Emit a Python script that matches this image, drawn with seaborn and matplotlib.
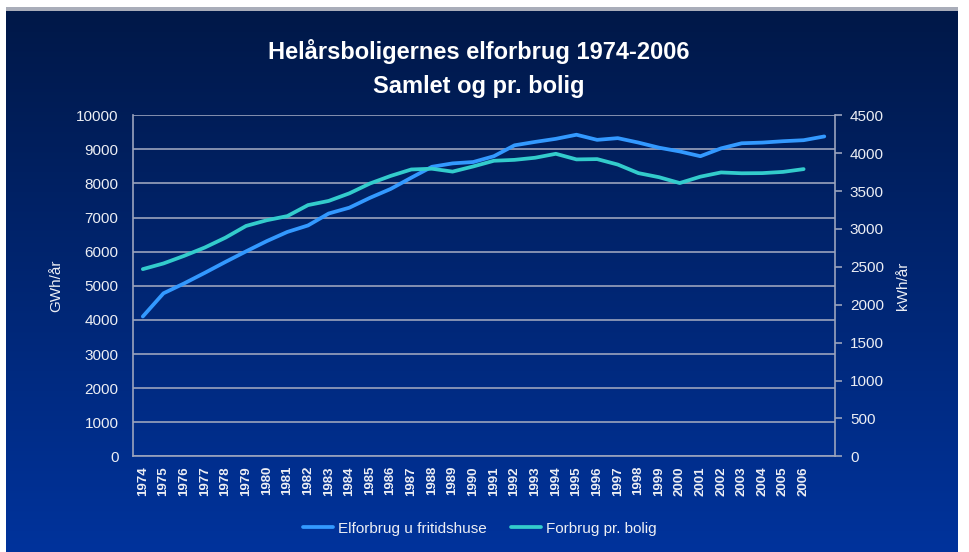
import numpy as np
import matplotlib
matplotlib.use("Agg")
import matplotlib.pyplot as plt
from matplotlib.colors import LinearSegmentedColormap
from matplotlib.patches import Rectangle
import seaborn as sns
import pandas as pd

# data
years = [str(y) for y in range(1974, 2007)] + [""]
elforbrug_gwh = [4100, 4780, 5070, 5380, 5700, 6010, 6310, 6580, 6770, 7120,
                 7290, 7580, 7840, 8170, 8490, 8590, 8630, 8800, 9120, 9220,
                 9310, 9430, 9280, 9330, 9200, 9050, 8940, 8800, 9030, 9180,
                 9200, 9240, 9270, 9380]
forbrug_bolig_kwh = [2470, 2545, 2645, 2755, 2885, 3040, 3115, 3170, 3315, 3370,
                     3470, 3600, 3700, 3785, 3795, 3757, 3825, 3900, 3912, 3940,
                     3992, 3918, 3922, 3850, 3737, 3683, 3606, 3690, 3746, 3735,
                     3737, 3753, 3790]

BLUE = "#3399ff"
TEAL = "#33cccc"
GRID = "#9aa3bd"
TXT = "#eceef4"

sns.set_style("white")
plt.rcParams["font.family"] = ["Liberation Sans", "DejaVu Sans"]

W, H = 969, 552
fig = plt.figure(figsize=(W / 100, H / 100), dpi=100, facecolor="white")

# slide background gradient
bg = fig.add_axes([6 / W, 0, (958 - 6) / W, 1 - 11 / H], zorder=0)
grad = np.linspace(0, 1, 256).reshape(-1, 1)
cmap = LinearSegmentedColormap.from_list("bg", ["#001848", "#00339c"])
bg.imshow(grad, aspect="auto", cmap=cmap, extent=[0, 1, 0, 1], origin="upper")
bg.axis("off")
fig.add_artist(Rectangle((6 / W, 1 - 11 / H), (958 - 6) / W, 4 / H,
                         transform=fig.transFigure, color="#a9adb9", lw=0))

# plot area
left, right, top, bottom = 132.5, 834.6, 115.3, 456.3
ax = fig.add_axes([left / W, 1 - bottom / H, (right - left) / W, (bottom - top) / H], zorder=1)
ax.patch.set_alpha(0)

df1 = pd.DataFrame({"pos": np.arange(len(elforbrug_gwh)), "val": elforbrug_gwh})
df2 = pd.DataFrame({"pos": np.arange(len(forbrug_bolig_kwh)), "val": forbrug_bolig_kwh})

sns.lineplot(data=df1, x="pos", y="val", ax=ax, color=BLUE, linewidth=2.7,
             label="Elforbrug u fritidshuse", legend=False)
ax2 = ax.twinx()
sns.lineplot(data=df2, x="pos", y="val", ax=ax2, color=TEAL, linewidth=2.7,
             label="Forbrug pr. bolig", legend=False)

ax.set_xlim(-0.5, len(years) - 0.5)
ax.set_ylim(0, 10000)
ax2.set_ylim(0, 4500)
ax.set_yticks(range(0, 10001, 1000))
ax2.set_yticks(range(0, 4501, 500))
ax.set_xticks(range(len(years)))
ax.set_xticklabels(years)

ax.set_axisbelow(True)
ax.yaxis.grid(True, color=GRID, linewidth=1.2)
ax.xaxis.grid(False)

for s in ["left", "bottom"]:
    ax.spines[s].set_color(GRID)
    ax.spines[s].set_linewidth(1.2)
ax.spines["top"].set_visible(False)
ax.spines["right"].set_visible(False)
for s in ["left", "top", "bottom"]:
    ax2.spines[s].set_visible(False)
ax2.spines["right"].set_color(GRID)
ax2.spines["right"].set_linewidth(1.2)

ax.tick_params(axis="y", length=0, pad=10, labelsize=11, labelcolor=TXT)
ax.tick_params(axis="x", length=0, pad=7, labelsize=9.5, labelcolor=TXT, rotation=90)
for lbl in ax.get_xticklabels():
    lbl.set_fontweight("bold")
ax2.tick_params(axis="y", length=5, width=1.2, color=GRID, pad=6,
                labelsize=11, labelcolor=TXT)

ax.set_xlabel("")
ax.set_ylabel("GWh/år", color=TXT, fontsize=11)
ax.yaxis.set_label_coords(-0.099, 0.5)
ax2.set_ylabel("kWh/år", color=TXT, fontsize=11)
ax2.yaxis.set_label_coords(1.088, 0.5)

fig.text(0.494, 0.906, "Helårsboligernes elforbrug 1974-2006", ha="center", va="center",
         fontsize=17, fontweight="bold", color="white")
fig.text(0.494, 0.844, "Samlet og pr. bolig", ha="center", va="center",
         fontsize=17, fontweight="bold", color="white")

h1, l1 = ax.get_legend_handles_labels()
h2, l2 = ax2.get_legend_handles_labels()
fig.legend(h1 + h2, l1 + l2, loc="center", bbox_to_anchor=(0.495, 0.042), ncol=2,
           frameon=False, fontsize=11, labelcolor=TXT, handlelength=2.0,
           handletextpad=0.3, columnspacing=1.6)

fig.savefig("out.png", dpi=100, facecolor="white")
